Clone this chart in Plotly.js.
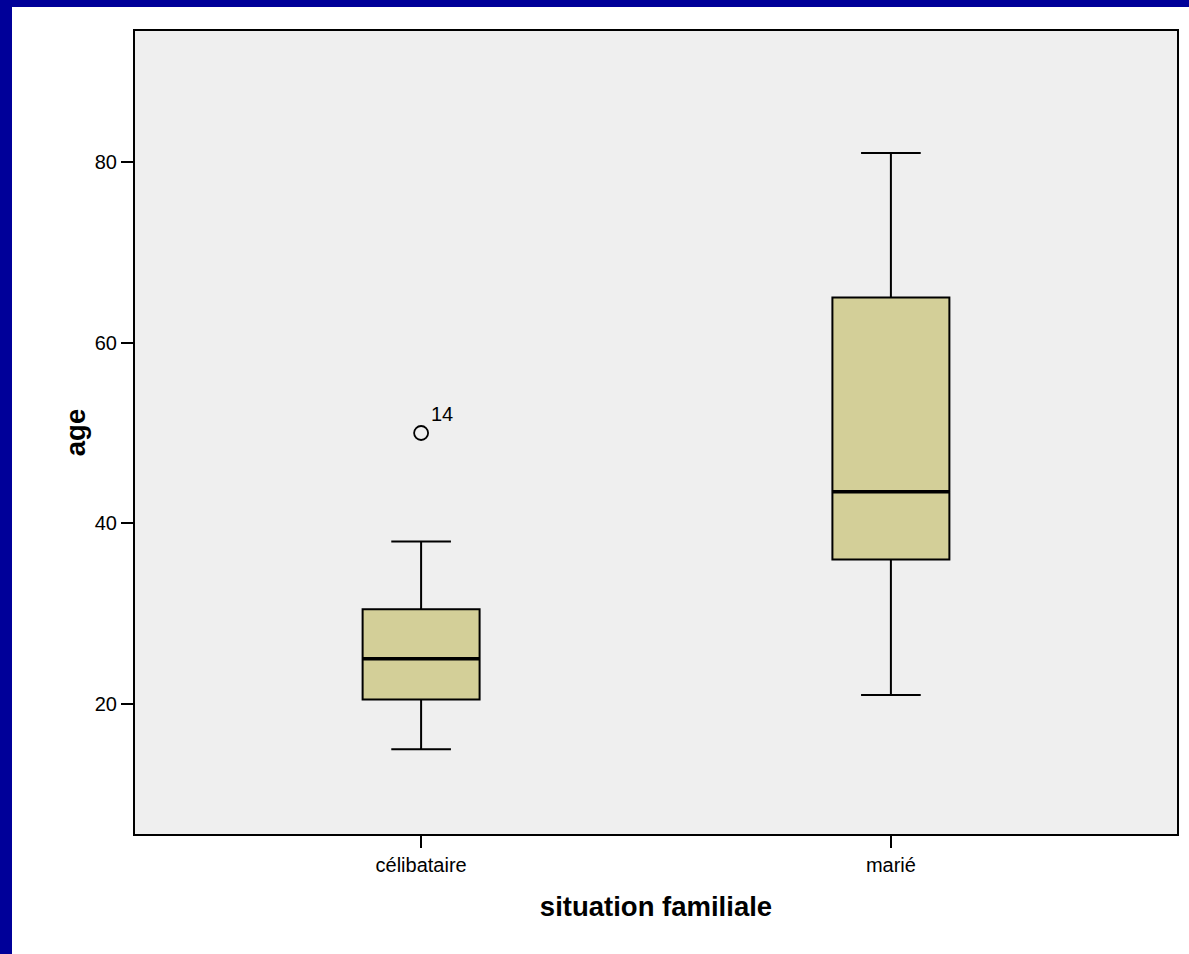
<!DOCTYPE html>
<html>
<head>
<meta charset="utf-8">
<script src="https://cdn.plot.ly/plotly-3.0.1.min.js"></script>
<style>
  html, body { margin: 0; padding: 0; background: #ffffff; }
  #wrap { position: relative; width: 1189px; height: 954px; overflow: hidden; }
  #chart { position: absolute; left: 0; top: 0; width: 1189px; height: 954px; }
  .barTop { position: absolute; left: 0; top: 0; width: 1189px; height: 7px; background: #000099; }
  .barLeft { position: absolute; left: 0; top: 0; width: 12px; height: 954px; background: #000099; }
</style>
</head>
<body>
<div id="wrap">
  <div id="chart"></div>
  <div class="barTop"></div>
  <div class="barLeft"></div>
</div>
<script>
// Data
const categories = ["célibataire", "marié"];
const lowerWhisker = [15, 21];
const q1Values = [20.5, 36];
const medianValues = [25, 43.5];
const q3Values = [30.5, 65];
const upperWhisker = [38, 81];
const outlierCategory = ["célibataire"];
const outlierValues = [50];
const outlierLabels = ["14"];
const yTicks = [20, 40, 60, 80];

const positions = categories.map((c, i) => i);
const boxWidth = 0.249;

const traces = [];
traces.push({
  type: "box",
  x: positions,
  q1: q1Values,
  median: medianValues,
  q3: q3Values,
  lowerfence: lowerWhisker,
  upperfence: upperWhisker,
  width: boxWidth,
  whiskerwidth: 0.51,
  fillcolor: "#d3cf98",
  line: { color: "#000000", width: 2 },
  boxpoints: false,
  hoverinfo: "skip",
  showlegend: false
});

// thicker median lines
medianValues.forEach((m, i) => {
  traces.push({
    type: "scatter",
    mode: "lines",
    x: [positions[i] - boxWidth / 2, positions[i] + boxWidth / 2],
    y: [m, m],
    line: { color: "#000000", width: 3.5 },
    hoverinfo: "skip",
    showlegend: false
  });
});

// outliers
traces.push({
  type: "scatter",
  mode: "markers",
  x: outlierCategory.map(c => categories.indexOf(c)),
  y: outlierValues,
  marker: { symbol: "circle-open", size: 14, color: "#000000", line: { width: 1.8, color: "#000000" } },
  hoverinfo: "skip",
  showlegend: false
});

const annotations = outlierValues.map((v, i) => ({
  x: categories.indexOf(outlierCategory[i]),
  y: v,
  xref: "x", yref: "y",
  text: outlierLabels[i],
  showarrow: false,
  xanchor: "left",
  yanchor: "bottom",
  xshift: 8,
  yshift: 6,
  font: { family: "Liberation Sans, Arial, sans-serif", size: 20, color: "#000000" }
}));

const layout = {
  width: 1189,
  height: 954,
  margin: { l: 135, r: 12, t: 31, b: 120, pad: 0 },
  paper_bgcolor: "#ffffff",
  plot_bgcolor: "#efefef",
  font: { family: "Liberation Sans, Arial, sans-serif", color: "#000000" },
  showlegend: false,
  xaxis: {
    type: "linear",
    range: [-0.609, 1.609],
    tickmode: "array",
    tickvals: positions,
    ticktext: categories,
    ticks: "outside",
    ticklen: 12,
    tickwidth: 2,
    tickcolor: "#000000",
    showgrid: false,
    zeroline: false,
    showline: true,
    linecolor: "#000000",
    linewidth: 2,
    mirror: true,
    tickfont: { size: 20, color: "#000000" },
    title: { text: "situation familiale", font: { size: 27.5, color: "#000000", family: "Liberation Sans, Arial, sans-serif", weight: "bold" }, standoff: 22 }
  },
  yaxis: {
    range: [5.61, 94.5],
    tickmode: "array",
    tickvals: yTicks,
    ticks: "outside",
    ticklen: 12,
    tickwidth: 2,
    tickcolor: "#000000",
    showgrid: false,
    zeroline: false,
    showline: true,
    linecolor: "#000000",
    linewidth: 2,
    mirror: true,
    tickfont: { size: 20, color: "#000000" },
    title: { text: "age", font: { size: 27.5, color: "#000000", family: "Liberation Sans, Arial, sans-serif", weight: "bold" }, standoff: 1 }
  },
  annotations: annotations
};

Plotly.newPlot("chart", traces, layout, { displayModeBar: false, staticPlot: true });
</script>
</body>
</html>
